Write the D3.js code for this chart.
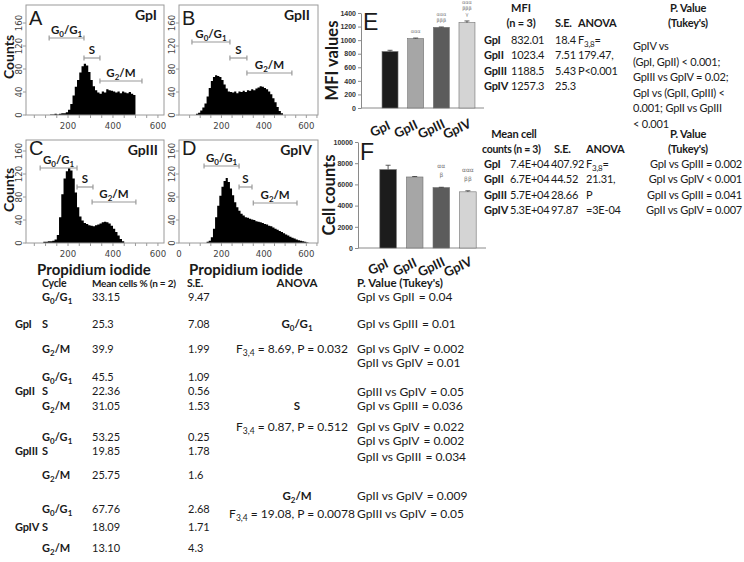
<!DOCTYPE html>
<html><head><meta charset="utf-8">
<script src="https://cdn.jsdelivr.net/npm/d3@7"></script>
<style>
body{margin:0;background:#fff;}
svg{display:block;}
</style></head><body>
<svg id="c" width="744" height="562"></svg>
<script>
// ================= DATA =================
const groups = ["GpI", "GpII", "GpIII", "GpIV"];

// flow-cytometry histograms: counts per channel bin (bins start at 80, width 10)
const binStart = 80, binWidth = 10;
const histGpI = [0,0,0,0,1,1,2,1,2,3,3,5,9,19,34,49,61,74,85,89,86,75,61,50,43,39,37,41,39,45,43,42,41,39,41,38,41,39,38,40,37,35,0];
const histGpII = [2,4,8,13,20,32,47,59,66,69,68,66,61,53,46,41,40,39,41,38,41,40,42,40,43,42,45,43,46,48,50,49,47,45,41,36,29,22,14,7,3,0];
const histGpIII = [0,2,2,3,3,4,6,14,45,85,112,125,130,126,112,88,62,46,39,35,33,31,30,29,31,32,34,36,37,36,34,30,25,19,13,7,3,0];
const histGpIV = [0,0,0,0,0,2,4,10,25,45,65,82,98,108,113,106,95,83,71,62,56,51,48,45,44,42,41,40,38,37,36,35,33,32,30,29,27,25,23,21,19,17,15,13,11,9,8,6,5,4,3,2,1,0];
const countTicks = [0, 40, 80, 120, 160];
// gates (channel ranges) for G0/G1, S, G2/M
const gateNames = ["G_0/G_1", "S", "G_2/M"];
const gatesGpI = [[116,271],[271,342],[342,529]];
const gatesGpII = [[61,240],[240,320],[320,532]];
const gatesGpIII = [[76,240],[240,311],[307,502]];
const gatesGpIV = [[118,283],[283,344],[350,556]];

// MFI bar chart (E)
const mfiMean = [832.01, 1023.4, 1188.5, 1257.3];
const mfiSE = [18.4, 7.51, 5.43, 25.3];
const mfiSig = [[], ["ααα"], ["ααα","βββ"], ["ααα","βββ","γ"]];
const mfiTicks = [0,200,400,600,800,1000,1200,1400];
const mfiText = ["832.01","1023.4","1188.5","1257.3"];
const mfiSEText = ["18.4","7.51","5.43","25.3"];
const mfiAnova = ["F_{3,8}=", "179.47,", "P<0.001"];
const mfiTukey = ["GpIV vs", "(GpI, GpII) < 0.001;", "GpIII vs GpIV = 0.02;", "GpI vs (GpII, GpIII) <", "0.001; GpII vs GpIII", "< 0.001"];

// Cell counts bar chart (F)
const cellMean = [7400, 6700, 5700, 5300];
const cellSE = [407.92, 44.52, 28.66, 97.87];
const cellSig = [[], [], ["αα","β"], ["ααα","ββ"]];
const cellTicks = [0,2000,4000,6000,8000,10000];
const cellText = ["7.4E+04","6.7E+04","5.7E+04","5.3E+04"];
const cellSEText = ["407.92","44.52","28.66","97.87"];
const cellAnova = ["F_{3,8}=", "21.31,", "P", "=3E-04"];
const cellTukey = ["GpI vs GpIII = 0.002", "GpI vs GpIV < 0.001", "GpII vs GpIII = 0.041", "GpII vs GpIV = 0.007"];

// Cell-cycle table
const cyclePhases = ["G_0/G_1", "S", "G_2/M"];
const cycleMean = [["33.15","25.3","39.9"],["45.5","22.36","31.05"],["53.25","19.85","25.75"],["67.76","18.09","13.10"]];
const cycleSE = [["9.47","7.08","1.99"],["1.09","0.56","1.53"],["0.25","1.78","1.6"],["2.68","1.71","4.3"]];
const anovaPhase = ["G_0/G_1", "S", "G_2/M"];
const anovaStat = ["F_{3,4} = 8.69, P = 0.032", "F_{3,4} = 0.87, P = 0.512", "F_{3,4} = 19.08, P = 0.0078"];
const tukeyPair = ["GpI vs GpII","GpI vs GpIII","GpI vs GpIV","GpII vs GpIV","GpIII vs GpIV","GpI vs GpIII","GpI vs GpIV","GpI vs GpIV","GpII vs GpIII","GpII vs GpIV","GpIII vs GpIV"];
const tukeyP = ["0.04","0.01","0.002","0.01","0.05","0.036","0.022","0.002","0.034","0.009","0.05"];

// ================= DRAWING =================
const svg = d3.select("#c");
const SANS = "Lato, 'Open Sans', sans-serif";
const ARIAL = "'Liberation Sans', Arial, sans-serif";
const NARROW = "'Liberation Sans Narrow', 'DejaVu Sans Condensed', sans-serif";
const INK = "#1a1a1a";

function rich(sel, str, subSize, dy) {
  const re = /_\{([^}]*)\}|_(.)/g;
  let last = 0, m, shifted = false;
  dy = dy || 3;
  while ((m = re.exec(str))) {
    if (m.index > last) {
      sel.append("tspan").attr("dy", shifted ? -dy : 0).text(str.slice(last, m.index));
      shifted = false;
    }
    const s = m[1] !== undefined ? m[1] : m[2];
    sel.append("tspan").attr("dy", shifted ? 0 : dy).attr("font-size", subSize).text(s);
    shifted = true;
    last = re.lastIndex;
  }
  if (last < str.length) sel.append("tspan").attr("dy", shifted ? -dy : 0).text(str.slice(last));
  return sel;
}
function txt(x, y, str, o) {
  o = o || {};
  const t = svg.append("text").attr("x", x).attr("y", y)
    .attr("font-family", o.family || SANS).attr("font-size", o.size || 11)
    .attr("font-weight", o.bold ? "bold" : "normal")
    .attr("text-anchor", o.anchor || "start").attr("fill", o.fill || INK);
  if (o.ls !== undefined) t.attr("letter-spacing", o.ls);
  if (o.rotate) t.attr("transform", `rotate(${o.rotate},${x},${y})`);
  rich(t, str, o.sub || Math.round((o.size || 11) * 0.72), o.dy);
  return t;
}

// ---------- Histogram panels ----------
const panels = [
  {letter:"A", title:"GpI", data:histGpI, gates:gatesGpI, box:[26,5,164,115], dom:[13,627], ticks:[200,400,600], gateY:[38,58,81], titleX:157, letterDy:20},
  {letter:"B", title:"GpII", data:histGpII, gates:gatesGpII, box:[179,5,318,115], dom:[0,655], ticks:[200,400,600], gateY:[42,58,73], titleX:310, letterDy:20},
  {letter:"C", title:"GpIII", data:histGpIII, gates:gatesGpIII, box:[26,140,164,243], dom:[13,627], ticks:[200,400,600], gateY:[168,187,202], titleX:158, letterDy:15},
  {letter:"D", title:"GpIV", data:histGpIV, gates:gatesGpIV, box:[179,140,318,243], dom:[0,655], ticks:[0,200,400,600], gateY:[166,187,203], titleX:312, letterDy:15}
];
panels.forEach(p => {
  const [x0, y0, x1, y1] = p.box;
  const x = d3.scaleLinear().domain(p.dom).range([x0, x1]);
  const y = d3.scaleLinear().domain([0, 160]).range([y1, y1 - 92]);
  const g = svg.append("g");
  const pts = p.data.map((v, i) => ({c: binStart + i * binWidth, v}));
  const area = d3.area().x(d => x(d.c)).y0(y(0)).y1(d => y(d.v)).curve(d3.curveStepAfter);
  g.append("path").datum(pts).attr("d", area).attr("fill", "#000");
  g.append("rect").attr("x", x0).attr("y", y0).attr("width", x1 - x0).attr("height", y1 - y0)
    .attr("fill", "none").attr("stroke", "#9a9a9a").attr("stroke-width", 1);
  countTicks.forEach(t => {
    g.append("line").attr("x1", x0 - 3).attr("x2", x0).attr("y1", y(t)).attr("y2", y(t)).attr("stroke", "#9a9a9a");
    txt(x0 - 4, y(t), String(t), {family: NARROW, size: 9.5, anchor: "middle", rotate: -90, fill: "#444"});
  });
  d3.range(50, 651, 50).filter(t => t > p.dom[0] && t < p.dom[1]).forEach(t => {
    g.append("line").attr("x1", x(t)).attr("x2", x(t)).attr("y1", y1).attr("y2", y1 + 3).attr("stroke", "#9a9a9a");
  });
  p.ticks.forEach(t => txt(x(t), y1 + 14, String(t), {family: NARROW, size: 9.5, anchor: "middle", fill: "#444"}));
  txt(x0 + 3, y0 + p.letterDy, p.letter, {family: ARIAL, size: 20});
  txt(p.titleX, y0 + 15, p.title, {bold: true, size: 14, anchor: "end"});
  p.gates.forEach((gt, i) => {
    const gy = p.gateY[i], a = x(gt[0]), b = x(gt[1]);
    g.append("line").attr("x1", a).attr("x2", b).attr("y1", gy).attr("y2", gy).attr("stroke", "#999").attr("stroke-width", 1.2);
    [a, b].forEach(xx => g.append("line").attr("x1", xx).attr("x2", xx).attr("y1", gy - 2.5).attr("y2", gy + 2.5).attr("stroke", "#999").attr("stroke-width", 1.2));
    txt((a + b) / 2, gy - 4, gateNames[i], {bold: true, size: 11.5, sub: 8, anchor: "middle", dy: 2.5});
  });
});
txt(14, 57, "Counts", {bold: true, size: 14, anchor: "middle", rotate: -90});
txt(14, 190, "Counts", {bold: true, size: 14, anchor: "middle", rotate: -90});
txt(94, 275, "Propidium iodide", {bold: true, size: 15, anchor: "middle"});
txt(246, 275, "Propidium iodide", {bold: true, size: 15, anchor: "middle"});

// ---------- Bar charts ----------
const barColors = ["#1c1c1c", "#a6a6a6", "#5c5c5c", "#d4d4d4"];
function barChart(o) {
  const x = d3.scaleBand().domain(groups).range([o.ax, o.ax + o.w]).paddingInner(0.377).paddingOuter(0.82);
  const y = d3.scaleLinear().domain([0, o.max]).range([o.yb, o.yt]);
  const g = svg.append("g");
  const ya = g.append("g").attr("transform", `translate(${o.ax},0)`)
    .call(d3.axisLeft(y).tickValues(o.ticks).tickSize(3).tickSizeOuter(0).tickPadding(2).tickFormat(d3.format("d")));
  ya.select(".domain").attr("stroke", "#8a8a8a");
  ya.selectAll(".tick line").attr("stroke", "#8a8a8a");
  ya.selectAll("text").attr("font-family", ARIAL).attr("font-weight", "bold").attr("font-size", 7).attr("fill", "#333");
  g.append("line").attr("x1", o.ax).attr("x2", o.ax + o.w - 12).attr("y1", y(0)).attr("y2", y(0)).attr("stroke", "#8a8a8a");
  g.selectAll("rect.bar").data(o.mean).join("rect").attr("class", "bar")
    .attr("x", (d, i) => x(groups[i])).attr("width", x.bandwidth())
    .attr("y", d => y(d)).attr("height", d => y(0) - y(d))
    .attr("fill", (d, i) => barColors[i]).attr("stroke", "#707070").attr("stroke-width", 0.6);
  o.mean.forEach((m, i) => {
    const cx = x(groups[i]) + x.bandwidth() / 2, top = y(m + o.se[i]);
    g.append("line").attr("x1", cx).attr("x2", cx).attr("y1", y(m)).attr("y2", top).attr("stroke", "#333").attr("stroke-width", 0.8);
    g.append("line").attr("x1", cx - 2.5).attr("x2", cx + 2.5).attr("y1", top).attr("y2", top).attr("stroke", "#333").attr("stroke-width", 0.8);
    const sig = o.sig[i];
    sig.forEach((s, k) => {
      const yy = top - o.sigGap - (sig.length - 1 - k) * o.sigStep;
      txt(cx, yy + 2, s, {family: "'DejaVu Sans', sans-serif", size: o.sigSize, anchor: "middle", fill: "#777"});
    });
    txt(cx - 8, y(0) + o.labOff, groups[i], {bold: true, size: 13, anchor: "middle", rotate: -25});
  });
  txt(o.ax + 2, o.letterY, o.letter, {family: ARIAL, size: 23});
  txt(o.ax - 23, (o.yb + o.yt) / 2, o.ylabel, {bold: true, size: 16.5, anchor: "middle", rotate: -90});
}
barChart({ax: 361, w: 135, yb: 108, yt: 13, max: 1400, ticks: mfiTicks, mean: mfiMean, se: mfiSE, sig: mfiSig,
  sigGap: 7, sigStep: 6, sigSize: 5, labOff: 25, letter: "E", letterY: 30, ylabel: "MFI values"});
barChart({ax: 358, w: 140, yb: 248, yt: 142, max: 10000, ticks: cellTicks, mean: cellMean, se: cellSE, sig: cellSig,
  sigGap: 12, sigStep: 9, sigSize: 6, labOff: 23, letter: "F", letterY: 160, ylabel: "Cell counts"});

// ---------- MFI table ----------
const T = 11, LS = -0.2;
txt(521, 12, "MFI", {bold: true, size: T, anchor: "middle"});
txt(521, 27, "(n = 3)", {bold: true, size: T, anchor: "middle", ls: LS});
txt(555, 27, "S.E.", {bold: true, size: T, ls: LS});
txt(578, 27, "ANOVA", {bold: true, size: T, ls: LS});
txt(688, 12, "P. Value", {bold: true, size: T, anchor: "middle", ls: LS});
txt(688, 27, "(Tukey's)", {bold: true, size: T, anchor: "middle", ls: LS});
const mfiRowY = [44, 59, 75, 90];
groups.forEach((gname, i) => {
  txt(484, mfiRowY[i], gname, {bold: true, size: T, ls: LS});
  txt(511, mfiRowY[i], mfiText[i], {size: T, ls: LS});
  txt(555, mfiRowY[i], mfiSEText[i], {size: T, ls: LS});
});
mfiAnova.forEach((s, i) => txt(578, mfiRowY[i], s, {size: T, sub: 8, dy: 2.5, ls: LS}));
const mfiTukeyY = [50, 65.5, 81, 96.5, 112, 127.5];
mfiTukey.forEach((s, i) => txt(633, mfiTukeyY[i], s, {size: T, ls: LS}));

// ---------- Cell count table ----------
txt(514, 138, "Mean cell", {bold: true, size: T, anchor: "middle", ls: LS});
txt(482, 153, "counts (n = 3)", {bold: true, size: 10.5, ls: -0.3});
txt(554, 153, "S.E.", {bold: true, size: T, ls: LS});
txt(586, 153, "ANOVA", {bold: true, size: T, ls: LS});
txt(688, 138, "P. Value", {bold: true, size: T, anchor: "middle", ls: LS});
txt(688, 153, "(Tukey's)", {bold: true, size: T, anchor: "middle", ls: LS});
const cellRowY = [168, 183, 199, 214];
groups.forEach((gname, i) => {
  txt(484, cellRowY[i], gname, {bold: true, size: T, ls: LS});
  txt(510, cellRowY[i], cellText[i], {size: T, ls: LS});
  txt(551, cellRowY[i], cellSEText[i], {size: T, ls: LS});
  txt(742, cellRowY[i], cellTukey[i], {size: T, anchor: "end", ls: LS});
});
cellAnova.forEach((s, i) => txt(586, cellRowY[i], s, {size: T, sub: 8, dy: 2.5, ls: LS}));

// ---------- Cell-cycle table ----------
const B = 11;
txt(42, 287, "Cycle", {bold: true, size: 10.5, ls: -0.2});
txt(92, 287, "Mean cells % (n = 2)", {bold: true, size: 10, ls: -0.2});
txt(187, 287, "S.E.", {bold: true, size: 10.5, ls: -0.2});
txt(297, 287, "ANOVA", {bold: true, size: 11.5, anchor: "middle"});
txt(357, 287, "P. Value (Tukey's)", {bold: true, size: 11.5});
const cycleRowY = [[301, 328, 353], [381, 395, 410], [441, 455, 479], [513, 531, 552]];
groups.forEach((gname, gi) => {
  txt(15, cycleRowY[gi][1], gname, {bold: true, size: B, ls: -0.2});
  cyclePhases.forEach((ph, pi) => {
    const yy = cycleRowY[gi][pi];
    txt(42, yy, ph, {bold: true, size: B, sub: 8, dy: 2.5});
    txt(92, yy, cycleMean[gi][pi], {size: B});
    txt(188, yy, cycleSE[gi][pi], {size: B});
  });
});
const anovaPhaseY = [328, 410, 500], anovaStatY = [353, 431, 518];
anovaPhase.forEach((s, i) => txt(297, anovaPhaseY[i], s, {bold: true, size: 11.5, sub: 8, anchor: "middle", dy: 2.5}));
anovaStat.forEach((s, i) => txt(292, anovaStatY[i], s, {size: 12, sub: 8.5, anchor: "middle", dy: 2.5}));
const tukeyY = [301, 328, 353, 367, 396, 410, 431, 445, 461, 500, 518];
tukeyPair.forEach((s, i) => {
  const t = txt(357, tukeyY[i], s, {size: 12});
  const w = t.node().getComputedTextLength();
  txt(Math.max(413, 357 + w + 4), tukeyY[i], "= " + tukeyP[i], {size: 12});
});
</script>
</body></html>
